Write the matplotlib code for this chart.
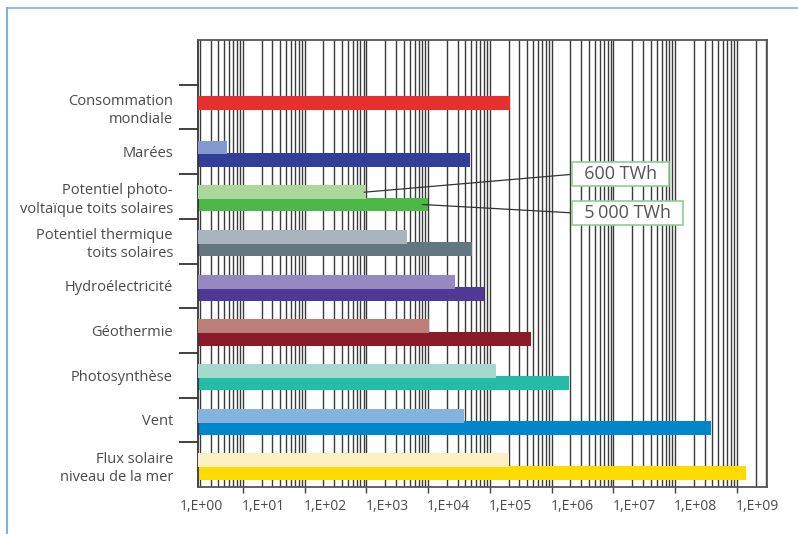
import numpy as np
import matplotlib
matplotlib.use('Agg')
import matplotlib.pyplot as plt
from matplotlib.lines import Line2D
from matplotlib.ticker import FixedLocator, FuncFormatter, NullLocator, LogLocator

plt.rcParams['font.family'] = ['Open Sans', 'DejaVu Sans']

# ---- data ----
categories = ["Consommation\nmondiale", "Marées",
              "Potentiel photo-\nvoltaïque toits solaires",
              "Potentiel thermique\ntoits solaires", "Hydroélectricité",
              "Géothermie", "Photosynthèse", "Vent",
              "Flux solaire\nniveau de la mer"]
values_upper = [2.1e5, 5.5, 1.0e3, 4.6e3, 2.7e4, 1.03e4, 1.25e5, 3.8e4, 2.0e5]
values_lower = [np.nan, 4.7e4, 9.9e3, 5.2e4, 8.0e4, 4.6e5, 1.9e6, 3.8e8, 1.38e9]
tick_exponents = list(range(0, 10))
annotation_labels = ["600 TWh", "5\u202f000 TWh"]
annotation_values = [920, 8000]

# ---- styles ----
colors_upper = ['#e5302e', '#8399d0', '#abd69c', '#a8b5be', '#9688c0',
                '#be7e78', '#a5d9ce', '#85b3e0', '#fdf0c4']
colors_lower = ['#e5302e', '#323f99', '#4db848', '#647780', '#4f3896',
                '#8b1a2a', '#24bca6', '#0087cb', '#ffdb00']
text_color = '#4a4a4a'

fig = plt.figure(figsize=(7.98, 5.34), dpi=100)
ax = fig.add_axes([198 / 798, 1 - 487 / 534, 569 / 798, 447 / 534])

n = len(categories)
slots = np.arange(n) + 1
y_upper = slots + 0.405
y_lower = slots + 0.680
bar_h = 0.313
base = 1e-3

vl = np.array(values_lower, dtype=float)
vu = np.array(values_upper, dtype=float)
mask = ~np.isnan(vl)
ax.barh(y_lower[mask], vl[mask] - base, left=base, height=bar_h,
        color=np.array(colors_lower)[mask], linewidth=0, zorder=2)
ax.barh(y_upper, vu - base, left=base, height=bar_h,
        color=colors_upper, linewidth=0, zorder=3)

ax.set_xscale('log')
ax.set_xlim(1.87, 3.06e9)
ax.set_ylim(10, 0)

ax.xaxis.set_major_locator(LogLocator(base=10, numticks=30))
ax.xaxis.set_minor_locator(LogLocator(base=10, subs=np.arange(2, 10), numticks=30))
ax.grid(True, which='both', axis='x', color='#3a3a3a', linewidth=1.0)
ax.set_axisbelow(True)
ax.tick_params(axis='x', which='major', length=4.3, width=1.0, color='#444',
               direction='out', labelbottom=False)
ax.tick_params(axis='x', which='minor', length=0, labelbottom=False)

ax.set_yticks(slots + 0.5)
ax.set_yticklabels(categories, fontsize=10.5, color=text_color, linespacing=1.3)
ax.tick_params(axis='y', which='major', length=0, pad=18)
ax.yaxis.set_minor_locator(FixedLocator(list(range(1, 10))))
ax.tick_params(axis='y', which='minor', length=13.7, width=1.3, color='#333',
               direction='out')

for s in ['top', 'right', 'bottom']:
    ax.spines[s].set_color('#555555')
    ax.spines[s].set_linewidth(1.3)
ax.spines['left'].set_color('#333333')
ax.spines['left'].set_linewidth(1.3)

# tick labels (offset scale as in the original)
k = 2.15
sec = ax.secondary_xaxis('bottom', functions=(lambda x: x / k, lambda x: x * k))
sec.set_xticks([10.0 ** e for e in tick_exponents])
sec.xaxis.set_major_formatter(
    FuncFormatter(lambda v, p: "1,E+%02d" % int(round(np.log10(v)))))
sec.xaxis.set_minor_locator(NullLocator())
sec.tick_params(length=0, pad=9, labelsize=10, labelcolor=text_color)
sec.spines['bottom'].set_visible(False)

# annotations
ann_y = [y_upper[2], y_lower[2]]
ann_pos = [(0.662, 0.700), (0.662, 0.613)]
for lab, xv, yv, pos in zip(annotation_labels, annotation_values, ann_y, ann_pos):
    ax.annotate("  " + lab + "  ", xy=(xv, yv), xycoords='data',
                xytext=pos, textcoords='axes fraction', ha='left', va='center',
                fontsize=13, color='#555555', zorder=6,
                bbox=dict(boxstyle='square,pad=0.15', fc='white',
                          ec='#8fcd8f', lw=1.2),
                arrowprops=dict(arrowstyle='-', color='#333333', lw=0.9,
                                relpos=(0, 0.5), shrinkA=0, shrinkB=0))

# outer frame
fc = '#7ab3dc'
fig.add_artist(Line2D([6.7 / 798, 6.7 / 798], [0, 1 - 8.3 / 534],
                      transform=fig.transFigure, color=fc, lw=1.4))
fig.add_artist(Line2D([6.7 / 798, 1], [1 - 8.3 / 534, 1 - 8.3 / 534],
                      transform=fig.transFigure, color=fc, lw=1.2))

fig.savefig('out.png', dpi=100)
